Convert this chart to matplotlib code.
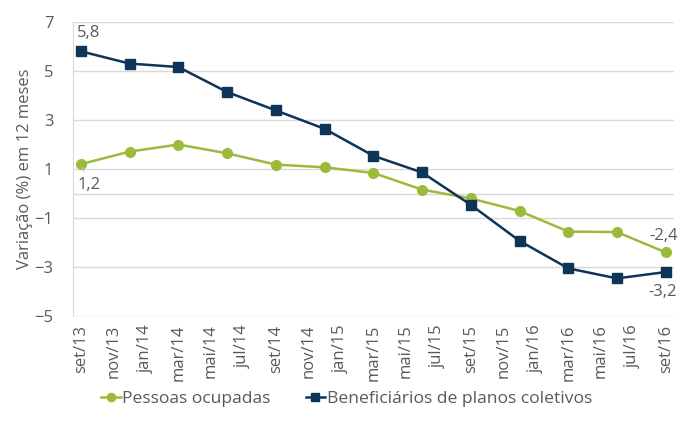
import matplotlib.pyplot as plt
import numpy as np

# Dados (variação % em 12 meses)
meses_nomes = ["jan", "fev", "mar", "abr", "mai", "jun", "jul", "ago", "set", "out", "nov", "dez"]
pontos = ["set/13", "dez/13", "mar/14", "jun/14", "set/14", "dez/14", "mar/15",
          "jun/15", "set/15", "dez/15", "mar/16", "jun/16", "set/16"]
pessoas_ocupadas = [1.2, 1.71, 2.0, 1.64, 1.18, 1.07, 0.84, 0.16, -0.2, -0.71, -1.55, -1.57, -2.4]
beneficiarios = [5.8, 5.3, 5.16, 4.14, 3.39, 2.64, 1.54, 0.86, -0.46, -1.93, -3.05, -3.46, -3.2]

# todos os meses de set/13 a set/16 (eixo de datas do Excel)
todos_meses = []
for ano in [13, 14, 15, 16]:
    for m in meses_nomes:
        todos_meses.append(m + "/" + str(ano))
todos_meses = todos_meses[todos_meses.index("set/13"):todos_meses.index("set/16") + 1]
rotulos = todos_meses[::2]

verde = "#9DBB3A"
azul = "#0E3457"
cinza = "#595959"
grade = "#D9D9D9"

plt.rcParams['font.family'] = ['Open Sans', 'DejaVu Sans']

fig = plt.figure(figsize=(6.8, 4.21), dpi=100)
ax = fig.add_axes([0.107, 0.249, 0.884, 0.699])

x = [todos_meses.index(p) for p in pontos]

ax.plot(x, pessoas_ocupadas, color=verde, linewidth=1.8, marker="o", markersize=7, zorder=3,
        label="Pessoas ocupadas")
ax.plot(x, beneficiarios, color=azul, linewidth=1.8, marker="s", markersize=7, zorder=4,
        label="Beneficiários de planos coletivos")

# eixos e grade
ax.set_ylim(-5, 7)
ax.set_yticks(np.arange(-5, 8, 2))
ax.set_xlim(-0.5, len(todos_meses) - 0.5)
ax.set_xticks(range(0, len(todos_meses), 2))
ax.set_xticklabels(rotulos, rotation=90)
ax.grid(axis="y", color=grade, linewidth=1)
ax.axhline(0, color=grade, linewidth=1, zorder=1)
ax.set_axisbelow(True)
for lado in ["top", "right", "bottom"]:
    ax.spines[lado].set_visible(False)
ax.spines["left"].set_color(grade)
ax.tick_params(axis="both", length=0, colors=cinza, labelsize=12)
ax.tick_params(axis="x", pad=6)
ax.tick_params(axis="y", pad=14)
ax.set_ylabel("Variação (%) em 12 meses", color=cinza, fontsize=12, labelpad=1)

# rótulos de dados
ax.annotate("5,8", xy=(x[0], beneficiarios[0]), xytext=(x[0] + 0.5, 6.55),
            color=cinza, fontsize=12, ha="center", va="center",
            arrowprops=dict(arrowstyle="-", color="#BFBFBF", lw=0.8))
ax.annotate("1,2", xy=(x[0], pessoas_ocupadas[0]), xytext=(x[0] + 0.5, 0.35),
            color=cinza, fontsize=12, ha="center", va="center",
            arrowprops=dict(arrowstyle="-", color="#BFBFBF", lw=0.8))
ax.text(x[-1] - 0.1, -1.75, "-2,4", color=cinza, fontsize=12, ha="center", va="center")
ax.text(x[-1] - 0.2, -4.0, "-3,2", color=cinza, fontsize=12, ha="center", va="center")

# legenda
h, l = ax.get_legend_handles_labels()
leg = fig.legend(h, l, loc="lower center", bbox_to_anchor=(0.51, -0.005), ncol=2,
                 frameon=False, fontsize=12.6, handlelength=1.1, handletextpad=0.1,
                 columnspacing=2.0, markerscale=0.85)
for t in leg.get_texts():
    t.set_color(cinza)

fig.savefig("out.png", dpi=100)
